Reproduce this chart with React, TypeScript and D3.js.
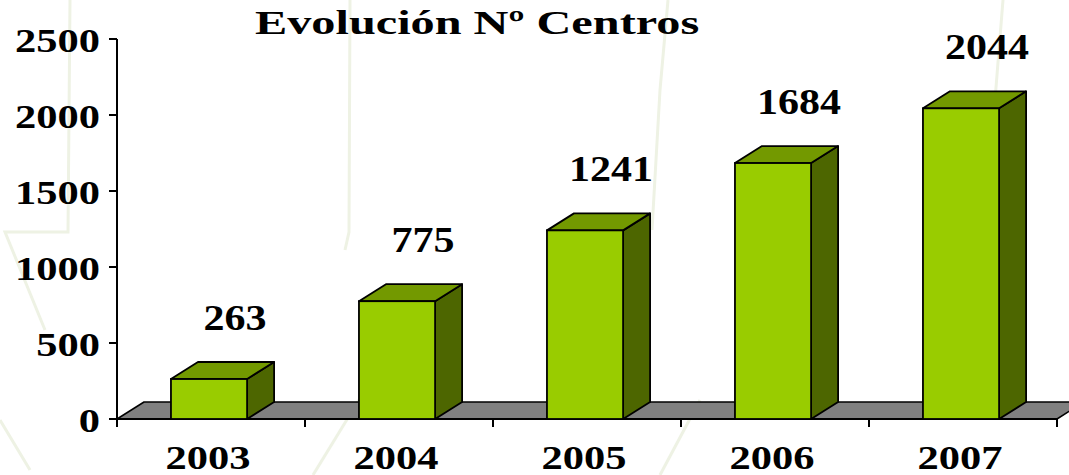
import React, { useEffect, useRef } from 'react';
import * as d3 from 'd3';

const width = 1069;
const height = 475;
const margin = { left: 117, right: 12, top: 39, bottom: 56 };

const years = ['2003', '2004', '2005', '2006', '2007'];
const centros = [263, 775, 1241, 1684, 2044];
const yTicks = [0, 500, 1000, 1500, 2000, 2500];

const depthX = 27;
const depthY = -17;
const font = 'Liberation Serif, Times New Roman, serif';
const stretch = 1.25; // the original image is wider than tall

const y = d3.scaleLinear()
  .domain([0, 2500])
  .range([height - margin.bottom, margin.top]);

const x = d3.scaleBand()
  .domain(years)
  .range([margin.left, width - margin.right]);

// faint template decoration in the background
const decor = [
  'M70,0 L68,232 L5,232 L45,330',
  'M350,0 L349,232 L345,250',
  'M668,0 L660,90 L652,230',
  'M1003,0 L995,100 L985,230',
  'M313,475 L362,395',
  'M660,475 L700,400',
  'M0,420 L30,470',
];

export default function App() {
  const ref = useRef<SVGSVGElement>(null);

  useEffect(() => {
    const svg = d3.select(ref.current);
    svg.selectAll('*').remove();

    svg.append('rect').attr('width', width).attr('height', height).attr('fill', '#fff');

    svg.append('g').selectAll('path')
      .data(decor)
      .enter().append('path')
      .attr('d', d => d)
      .attr('fill', 'none')
      .attr('stroke', '#eef2e4')
      .attr('stroke-width', 3);

    const y0 = y(0);
    const x0 = x.range()[0];
    const x1 = x.range()[1];

    // floor
    svg.append('path')
      .attr('d', `M${x0},${y0} L${x1},${y0} L${x1 + depthX},${y0 + depthY} L${x0 + depthX},${y0 + depthY} Z`)
      .attr('fill', '#808080')
      .attr('stroke', '#000')
      .attr('stroke-width', 1.5)
      .attr('stroke-linejoin', 'round');

    // y axis
    svg.append('line')
      .attr('x1', x0).attr('x2', x0)
      .attr('y1', y(2500)).attr('y2', y0)
      .attr('stroke', '#000').attr('stroke-width', 2);

    const yg = svg.append('g');
    yg.selectAll('line')
      .data(yTicks)
      .enter().append('line')
      .attr('x1', x0 - 8).attr('x2', x0)
      .attr('y1', d => y(d)).attr('y2', d => y(d))
      .attr('stroke', '#000').attr('stroke-width', 2);

    yg.selectAll('text')
      .data(yTicks)
      .enter().append('text')
      .attr('transform', d => `translate(${x0 - 17},${y(d) + 13}) scale(${stretch},1)`)
      .attr('text-anchor', 'end')
      .style('font-family', font)
      .style('font-weight', 'bold')
      .style('font-size', '34px')
      .text(d => d);

    // x axis ticks
    const bounds = years.map(d => x(d)).concat([x1]);
    svg.append('g').selectAll('line')
      .data(bounds)
      .enter().append('line')
      .attr('x1', d => d).attr('x2', d => d)
      .attr('y1', y0).attr('y2', y0 + 8)
      .attr('stroke', '#000').attr('stroke-width', 2);

    svg.append('line')
      .attr('x1', x0).attr('x2', x1)
      .attr('y1', y0).attr('y2', y0)
      .attr('stroke', '#000').attr('stroke-width', 2);

    svg.append('g').selectAll('text')
      .data(years)
      .enter().append('text')
      .attr('transform', d => `translate(${x(d) + x.bandwidth() / 2 - 3},${y0 + 50}) scale(${stretch},1)`)
      .attr('text-anchor', 'middle')
      .style('font-family', font)
      .style('font-weight', 'bold')
      .style('font-size', '34px')
      .text(d => d);

    // 3D bars
    const bw = x.bandwidth() * 0.405;
    const off = x.bandwidth() * 0.287;
    const bars = svg.append('g').selectAll('g')
      .data(centros)
      .enter().append('g');

    const bx = (i: number) => x(years[i]) + off;

    bars.append('path')
      .attr('d', (d, i) => {
        const l = bx(i), r = l + bw, t = y(d);
        return `M${r},${y0} L${r + depthX},${y0 + depthY} L${r + depthX},${t + depthY} L${r},${t} Z`;
      })
      .attr('fill', '#4d6600')
      .attr('stroke', '#000').attr('stroke-width', 1.8).attr('stroke-linejoin', 'round');

    bars.append('path')
      .attr('d', (d, i) => {
        const l = bx(i), r = l + bw, t = y(d);
        return `M${l},${t} L${l + depthX},${t + depthY} L${r + depthX},${t + depthY} L${r},${t} Z`;
      })
      .attr('fill', '#739900')
      .attr('stroke', '#000').attr('stroke-width', 1.8).attr('stroke-linejoin', 'round');

    bars.append('rect')
      .attr('x', (d, i) => bx(i))
      .attr('y', d => y(d))
      .attr('width', bw)
      .attr('height', d => y0 - y(d))
      .attr('fill', '#99cc00')
      .attr('stroke', '#000').attr('stroke-width', 1.8);

    bars.append('text')
      .attr('transform', (d, i) => `translate(${bx(i) + bw / 2 + 26},${y(d) - 49}) scale(1.2,1)`)
      .attr('text-anchor', 'middle')
      .style('font-family', font)
      .style('font-weight', 'bold')
      .style('font-size', '35px')
      .text(d => d);

    // title
    svg.append('text')
      .attr('transform', `translate(255,34) scale(1.42,1)`)
      .style('font-family', font)
      .style('font-weight', 'bold')
      .style('font-size', '34px')
      .text('Evolución Nº Centros');
  }, []);

  return <svg ref={ref} width={width} height={height} style={{ position: 'absolute', left: 0, top: 0 }} />;
}
